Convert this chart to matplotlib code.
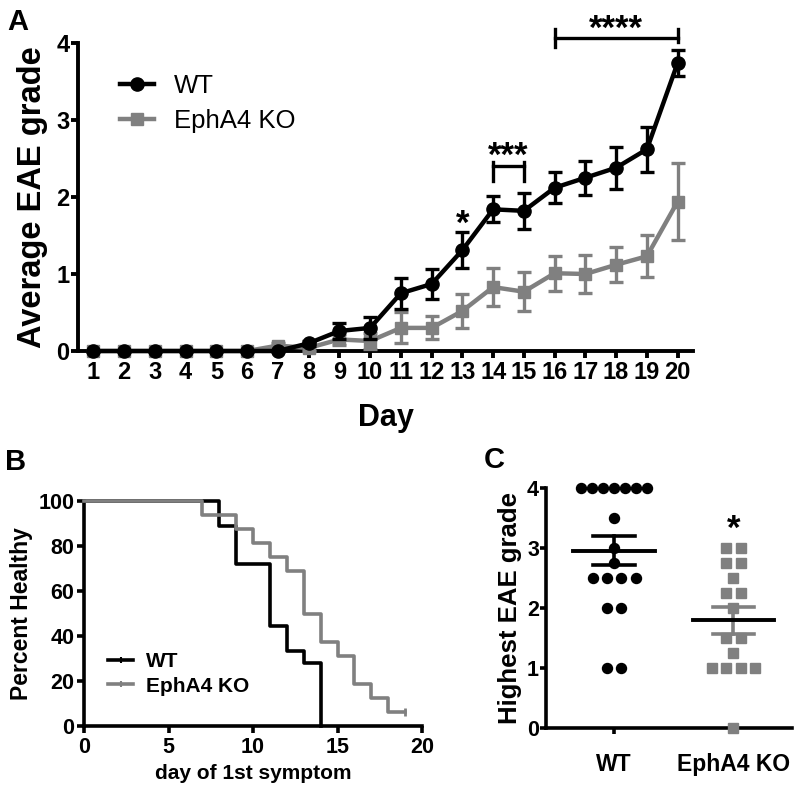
import matplotlib
matplotlib.use('Agg')
import matplotlib.pyplot as plt
import numpy as np
from matplotlib.lines import Line2D

plt.rcParams['font.family'] = ['Liberation Sans', 'DejaVu Sans']

# ---------------- data ----------------
days = list(range(1, 21))
wt_mean = [0, 0, 0, 0, 0, 0, 0, 0.10, 0.26, 0.30, 0.75, 0.87, 1.31, 1.84, 1.82, 2.12, 2.25, 2.38, 2.62, 3.74]
wt_sem = [0, 0, 0, 0, 0, 0, 0, 0.03, 0.11, 0.14, 0.20, 0.20, 0.23, 0.17, 0.23, 0.20, 0.22, 0.27, 0.29, 0.17]
ko_mean = [0, 0, 0, 0, 0, 0, 0.07, 0.04, 0.15, 0.13, 0.30, 0.30, 0.52, 0.83, 0.77, 1.01, 1.00, 1.12, 1.23, 1.94]
ko_sem = [0, 0, 0, 0, 0, 0, 0.04, 0.04, 0.07, 0.10, 0.20, 0.15, 0.22, 0.25, 0.25, 0.23, 0.25, 0.23, 0.27, 0.50]

surv_wt_days = [0, 8, 9, 11, 12, 13, 14]
surv_wt_pct = [100, 88.9, 72.2, 44.4, 33.3, 27.8, 0]
surv_ko_days = [0, 7, 9, 10, 11, 12, 13, 14, 15, 16, 17, 18, 19]
surv_ko_pct = [100, 93.75, 87.5, 81.25, 75, 68.75, 50, 37.5, 31.25, 18.75, 12.5, 6.25, 6.25]

groups = ['WT', 'EphA4 KO']
wt_scores = [4] * 7 + [3.5, 3.0, 2.75] + [2.5] * 4 + [2] * 2 + [1] * 2
ko_scores = [3] * 2 + [2.75] * 2 + [2.5] + [2.25] * 2 + [2] + [1.5] * 2 + [1.25] + [1] * 4 + [0]

GRAY = '#808080'
W, H = 799, 794
fig = plt.figure(figsize=(W / 100, H / 100), dpi=100)


def fr(l, t, r, b):
    return [l / W, 1 - b / H, (r - l) / W, (b - t) / H]


def style(ax, lw=2.6, length=5):
    for s in ['top', 'right']:
        ax.spines[s].set_visible(False)
    for s in ['left', 'bottom']:
        ax.spines[s].set_linewidth(lw)
    ax.tick_params(width=lw, length=length, direction='out')


STAR = 25

# ---------------- Panel A ----------------
axA = fig.add_axes(fr(78, 43, 693, 351))
style(axA, 2.8, 5)
axA.errorbar(days, ko_mean, yerr=ko_sem, color=GRAY, marker='s', ms=9, lw=3.2,
             elinewidth=2.4, capsize=5, capthick=2.4, clip_on=False, zorder=3)
axA.errorbar(days, wt_mean, yerr=wt_sem, color='black', marker='o', ms=9.5, lw=3.2,
             elinewidth=2.4, capsize=5, capthick=2.4, clip_on=False, zorder=4)
axA.set_xlim(0.5, 20.5)
axA.set_ylim(0, 4)
axA.set_xticks(days)
axA.set_yticks([0, 1, 2, 3, 4])
for lab in axA.get_xticklabels() + axA.get_yticklabels():
    lab.set_fontweight('bold')
    lab.set_fontsize(17)
axA.tick_params(axis='x', pad=2)
axA.tick_params(axis='y', pad=1)
axA.set_xlabel('Day', fontsize=22, fontweight='bold', labelpad=14)
axA.set_ylabel('Average EAE grade', fontsize=23.5, fontweight='bold', labelpad=6)
hA = [Line2D([], [], color='black', marker='o', ms=9.5, lw=3.2),
      Line2D([], [], color=GRAY, marker='s', ms=9, lw=3.2)]
axA.legend(hA, ['WT', 'EphA4 KO'], loc='upper left', bbox_to_anchor=(0.03, 0.975),
           frameon=False, fontsize=18.5, handlelength=1.35, handletextpad=0.75,
           labelspacing=0.42)
# significance marks
axA.text(13, 1.52, '*', ha='center', va='baseline', fontsize=STAR, fontweight='bold')
axA.plot([14, 15], [2.4, 2.4], color='black', lw=2.4, clip_on=False)
axA.plot([14, 14], [2.21, 2.45], color='black', lw=2.4, clip_on=False)
axA.plot([15, 15], [2.21, 2.45], color='black', lw=2.4, clip_on=False)
axA.text(14.5, 2.40, '***', ha='center', va='baseline', fontsize=STAR, fontweight='bold')
axA.plot([16, 20], [4.065, 4.065], color='black', lw=2.4, clip_on=False)
axA.plot([16, 16], [3.95, 4.18], color='black', lw=2.4, clip_on=False)
axA.plot([20, 20], [4.01, 4.18], color='black', lw=2.4, clip_on=False)
axA.text(18, 4.06, '****', ha='center', va='baseline', fontsize=STAR, fontweight='bold',
         clip_on=False)
fig.text(7 / W, 1 - 30 / H, 'A', fontsize=21, fontweight='bold')

# ---------------- Panel B ----------------
axB = fig.add_axes(fr(84, 501, 422, 726))
style(axB, 2.6, 5)
axB.step(surv_wt_days, surv_wt_pct, where='post', color='black', lw=2.6, clip_on=False, zorder=3)
axB.step(surv_ko_days, surv_ko_pct, where='post', color=GRAY, lw=2.6, clip_on=False, zorder=4)
axB.plot([surv_ko_days[-1]], [surv_ko_pct[-1]], marker='|', ms=6, mew=2, color=GRAY,
         clip_on=False, zorder=4)
axB.set_xlim(0, 20)
axB.set_ylim(0, 100)
axB.set_xticks([0, 5, 10, 15, 20])
axB.set_yticks([0, 20, 40, 60, 80, 100])
for lab in axB.get_xticklabels() + axB.get_yticklabels():
    lab.set_fontweight('bold')
    lab.set_fontsize(15.5)
axB.tick_params(axis='x', pad=3)
axB.tick_params(axis='y', pad=2)
axB.set_xlabel('day of 1st symptom', fontsize=15, fontweight='bold', labelpad=4)
axB.set_ylabel('Percent Healthy', fontsize=16.5, fontweight='bold', labelpad=4)
hB = [Line2D([], [], color='black', lw=2.6, marker='|', ms=5, mew=1.5),
      Line2D([], [], color=GRAY, lw=2.6, marker='|', ms=5, mew=1.5)]
axB.legend(hB, ['WT', 'EphA4 KO'], loc='lower left', bbox_to_anchor=(0.016, 0.052),
           frameon=False, handlelength=1.2, handletextpad=0.62, labelspacing=0.25,
           prop={'weight': 'bold', 'size': 15})
fig.text(5 / W, 1 - 470 / H, 'B', fontsize=21, fontweight='bold')

# ---------------- Panel C ----------------
axC = fig.add_axes(fr(546, 488, 792, 728))
style(axC, 2.6, 4)


def swarm_x(scores, center, spacing_small, spacing_big):
    xs = np.zeros(len(scores))
    scores = np.asarray(scores, dtype=float)
    for v in np.unique(scores):
        idx = np.where(scores == v)[0]
        n = len(idx)
        sp = spacing_big if n >= 6 else spacing_small
        xs[idx] = center + (np.arange(n) - (n - 1) / 2) * sp
    return xs


wx = swarm_x(wt_scores, 0, 0.12, 0.092)
kx = swarm_x(ko_scores, 1, 0.122, 0.092)
axC.plot(wx, wt_scores, 'o', color='black', ms=7.2, clip_on=False, zorder=3)
axC.plot(kx, ko_scores, 's', color=GRAY, ms=7.8, clip_on=False, zorder=3)
for i, (sc, ecol) in enumerate([(wt_scores, 'black'), (ko_scores, GRAY)]):
    m = np.mean(sc)
    se = np.std(sc, ddof=1) / np.sqrt(len(sc))
    axC.plot([i - 0.175, i + 0.175], [m + se, m + se], color=ecol, lw=2.6, zorder=4)
    axC.plot([i - 0.175, i + 0.175], [m - se, m - se], color=ecol, lw=2.6, zorder=4)
    axC.plot([i, i], [m - se, m + se], color=ecol, lw=2.6, zorder=4)
    axC.plot([i - 0.34, i + 0.34], [m, m], color='black', lw=2.8, zorder=5)
axC.text(1, 3.15, '*', ha='center', va='baseline', fontsize=STAR, fontweight='bold')
axC.set_xlim(-0.57, 1.49)
axC.set_ylim(0, 4)
axC.set_xticks([0, 1])
axC.set_xticklabels(groups)
axC.set_yticks([0, 1, 2, 3, 4])
for lab in axC.get_xticklabels():
    lab.set_fontweight('bold')
    lab.set_fontsize(16.5)
for lab in axC.get_yticklabels():
    lab.set_fontweight('bold')
    lab.set_fontsize(15.5)
axC.tick_params(axis='x', pad=14)
axC.tick_params(axis='y', pad=1)
axC.set_ylabel('Highest EAE grade', fontsize=18.5, fontweight='bold', labelpad=4)
fig.text(484 / W, 1 - 468 / H, 'C', fontsize=21, fontweight='bold')

fig.savefig('out.png', dpi=100)
